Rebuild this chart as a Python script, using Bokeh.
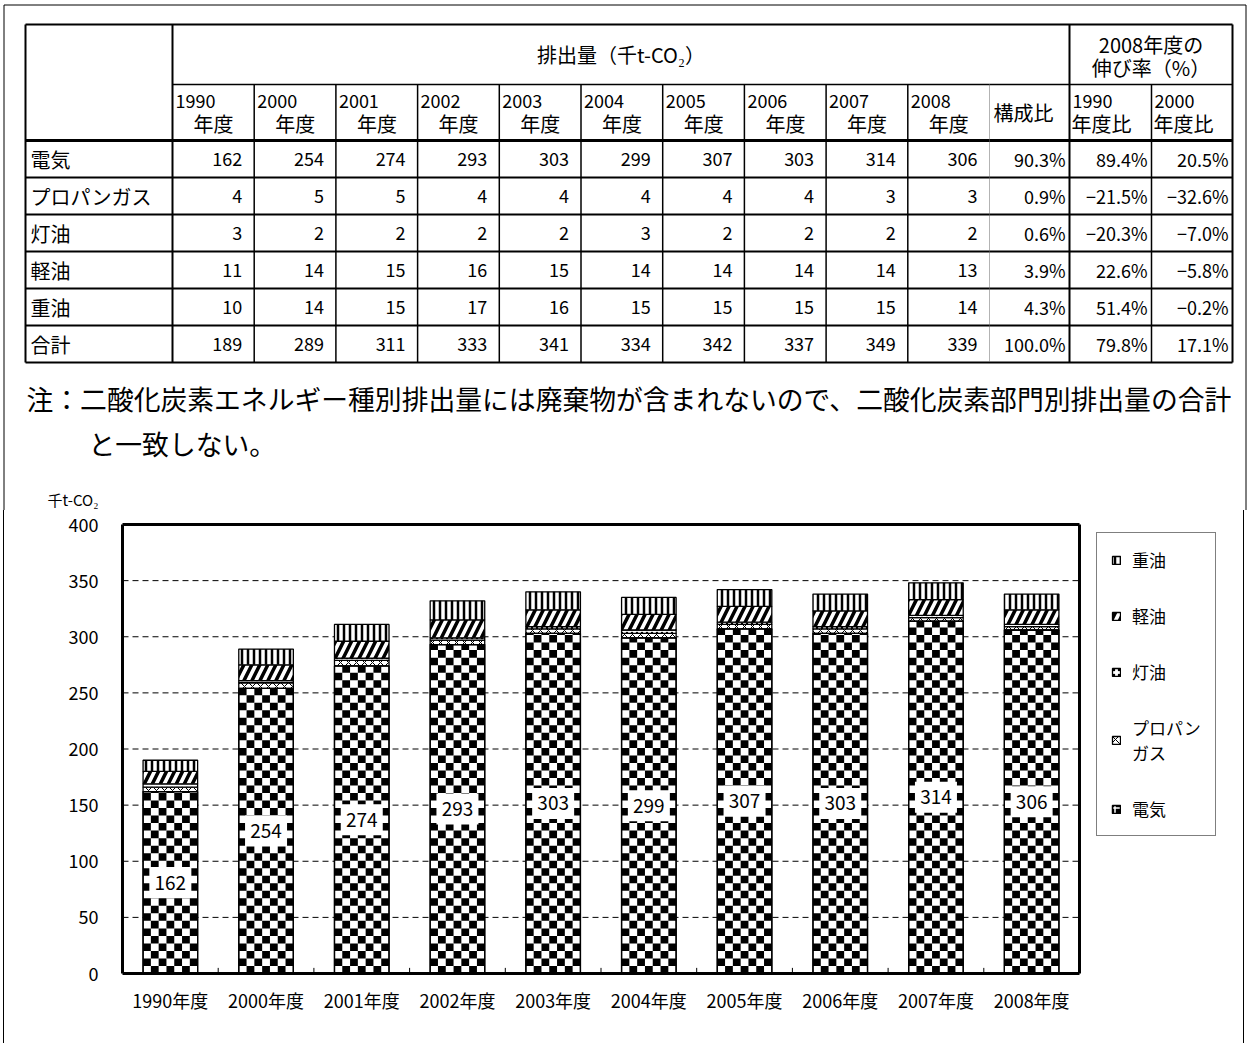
from bokeh.plotting import figure
from bokeh.models import Range1d, ColumnDataSource, Legend, LegendItem, FixedTicker
from bokeh.core.properties import value
from bokeh.embed import file_html
from bokeh.resources import INLINE

# ---------------- data ----------------
years = ["1990", "2000", "2001", "2002", "2003", "2004", "2005", "2006", "2007", "2008"]
year_labels = [y + "年度" for y in years]
row_labels = ["電気", "プロパンガス", "灯油", "軽油", "重油", "合計"]
denki = [162, 254, 274, 293, 303, 299, 307, 303, 314, 306]
propane = [4, 5, 5, 4, 4, 4, 4, 4, 3, 3]
touyu = [3, 2, 2, 2, 2, 3, 2, 2, 2, 2]
keiyu = [11, 14, 15, 16, 15, 14, 14, 14, 14, 13]
juyu = [10, 14, 15, 17, 16, 15, 15, 15, 15, 14]
total = [189, 289, 311, 333, 341, 334, 342, 337, 349, 339]
share = ["90.3%", "0.9%", "0.6%", "3.9%", "4.3%", "100.0%"]
vs1990 = ["89.4%", "−21.5%", "−20.3%", "22.6%", "51.4%", "79.8%"]
vs2000 = ["20.5%", "−32.6%", "−7.0%", "−5.8%", "−0.2%", "17.1%"]
legend_labels = ["電気", "プロパン\nガス", "灯油", "軽油", "重油"]
note_line1 = "注：二酸化炭素エネルギー種別排出量には廃棄物が含まれないので、二酸化炭素部門別排出量の合計"
note_line2 = "と一致しない。"
unit_label = "千t-CO₂"
y_ticks = [0, 50, 100, 150, 200, 250, 300, 350, 400]
y_max = 400

FONT = "Noto Sans CJK JP"

# ---------------- top figure: table + note (pixel coordinates) ----------------
WA, HA = 1247, 510

pA = figure(width=WA, height=HA, x_range=Range1d(0, WA), y_range=Range1d(HA, 0),
            output_backend="svg", toolbar_location=None, min_border=0,
            x_axis_location=None, y_axis_location=None)
pA.grid.visible = False
pA.outline_line_color = None

TL, TR = 25, 1232
c_label = 172
yc = [c_label + 81.7 * k for k in range(11)]
c_share_r = 1069
c_v1990_r = 1151
T_top, H1, H2 = 24, 84, 140
RH = 37
row_edges = [H2 + RH * k for k in range(7)]
T_bot = row_edges[-1]

seg = dict(x0=[], y0=[], x1=[], y1=[], w=[])


def line(x0, y0, x1, y1, w):
    seg["x0"].append(x0); seg["y0"].append(y0)
    seg["x1"].append(x1); seg["y1"].append(y1); seg["w"].append(w)


# page frame (left, top, right)
line(3.5, 4.5, 1245.5, 4.5, 1)
line(3.5, 4.5, 3.5, HA, 1)
line(1245.5, 4.5, 1245.5, HA, 1)
# table grid
line(TL, T_top, TR, T_top, 2)
line(TL, T_bot, TR, T_bot, 2)
line(TL, T_top, TL, T_bot, 2)
line(TR, T_top, TR, T_bot, 2)
line(c_label, T_top, c_label, T_bot, 2)
line(c_share_r, T_top, c_share_r, T_bot, 2)
for k in range(1, 10):
    line(yc[k], H1, yc[k], T_bot, 1.5)
line(c_v1990_r, H1, c_v1990_r, T_bot, 1.5)
line(c_label, H1, TR, H1, 1.5)
line(TL, H2, TR, H2, 3)
for k in range(1, 6):
    line(TL, row_edges[k], TR, row_edges[k], 2)

pA.segment(x0="x0", y0="y0", x1="x1", y1="y1", line_width="w", line_color="black",
           source=ColumnDataSource(seg))
pA.segment(x0=[yc[10]], y0=[H1], x1=[yc[10]], y1=[T_bot],
           line_color="#666666", line_width=1, line_dash="1 1")

cj = dict(x=[], y=[], t=[], a=[])      # CJK texts, 20px
dg = dict(x=[], y=[], t=[], a=[])      # numeric texts, 18px


def put(d, x, y, t, a):
    d["x"].append(x); d["y"].append(y); d["t"].append(t); d["a"].append(a)


put(cj, (c_label + c_share_r) / 2, (T_top + H1) / 2, "排出量（千t-CO₂）", "center")
put(cj, (c_share_r + TR) / 2, 44, "2008年度の", "center")
put(cj, (c_share_r + TR) / 2, 67, "伸び率（%）", "center")
for k, yr in enumerate(years):
    put(dg, yc[k] + 3, 100, yr, "left")
    put(cj, yc[k] + 41, 123, "年度", "center")
put(cj, yc[10] + 4, (H1 + H2) / 2, "構成比", "left")
put(dg, c_share_r + 3, 100, "1990", "left")
put(cj, c_share_r + 2, 123, "年度比", "left")
put(dg, c_v1990_r + 3, 100, "2000", "left")
put(cj, c_v1990_r + 2, 123, "年度比", "left")

table_rows = [denki, propane, touyu, keiyu, juyu, total]
for r, lab in enumerate(row_labels):
    cy = (row_edges[r] + row_edges[r + 1]) / 2
    put(cj, TL + 5, cy, lab, "left")
    for k, v in enumerate(table_rows[r]):
        put(dg, yc[k + 1] - 12, cy, str(v), "right")
    put(dg, c_share_r - 4, cy, share[r], "right")
    put(dg, c_v1990_r - 4, cy, vs1990[r], "right")
    put(dg, TR - 4, cy, vs2000[r], "right")

pA.text(x="x", y="y", text="t", text_align="a", source=ColumnDataSource(cj),
        text_font=value(FONT), text_font_size="20px", text_color="black", text_baseline="middle")
pA.text(x="x", y="y", text="t", text_align="a", source=ColumnDataSource(dg),
        text_font=value(FONT), text_font_size="18px", text_color="black", text_baseline="middle")

pA.text(x=[26, 88], y=[398, 443], text=[note_line1, note_line2],
        text_align="left", text_baseline="middle", text_font=value(FONT),
        text_font_size="26.8px", text_color="black")
pA.text(x=[47], y=[499], text=[unit_label], text_align="left", text_baseline="middle",
        text_font=value(FONT), text_font_size="15px", text_color="black")

# ---------------- bottom figure: stacked bar chart ----------------
WB, HB = 1241, 1043 - HA
B_left, B_top = 4, HA
chart_l, chart_r, chart_t, chart_b = 122, 1079, 524, 973      # plot-area box in page px
FL, FR, FT, FB = 118, 1236, 520, 977                            # bokeh frame in page px
n = len(years)
xpx = (chart_r - chart_l) / n
ypx = (chart_b - chart_t) / y_max

pB = figure(width=WB, height=HB,
            x_range=Range1d((FL - chart_l) / xpx, (FR - chart_l) / xpx),
            y_range=Range1d(-(FB - chart_b) / ypx, y_max + (chart_t - FT) / ypx),
            output_backend="svg", toolbar_location=None,
            min_border_left=FL - B_left, min_border_right=B_left + WB - FR,
            min_border_top=FT - B_top, min_border_bottom=B_top + HB - FB,
            styles={"margin-left": "3px", "border-left": "1px solid black",
                    "border-right": "1px solid black"})
pB.outline_line_color = None
pB.grid.visible = False
pB.yaxis.ticker = FixedTicker(ticks=y_ticks)
pB.xaxis.ticker = FixedTicker(ticks=[i + 0.5 for i in range(n)])
pB.xaxis.major_label_overrides = {i + 0.5: lab for i, lab in enumerate(year_labels)}
for ax in (pB.xaxis[0], pB.yaxis[0]):
    ax.axis_line_color = None
    ax.major_tick_line_color = None
    ax.minor_tick_line_color = None
    ax.major_label_text_font = FONT
    ax.major_label_text_color = "black"
pB.yaxis.major_label_text_font_size = "18px"
pB.yaxis.major_label_standoff = 14
pB.xaxis.major_label_text_font_size = "18px"
pB.xaxis.major_label_standoff = 3

# dashed value gridlines inside the plot area
grid_y = [t for t in y_ticks if 0 < t < y_max]
pB.segment(x0=[0] * len(grid_y), y0=grid_y, x1=[n] * len(grid_y), y1=grid_y,
           line_color="black", line_width=1, line_dash="6 4")

xs = [i + 0.5 for i in range(n)]
src = ColumnDataSource(dict(x=xs, denki=denki, propane=propane, touyu=touyu,
                            keiyu=keiyu, juyu=juyu))
stackers = ["denki", "propane", "touyu", "keiyu", "juyu"]
BAR_W = 0.57
rs = pB.vbar_stack(stackers, x="x", width=BAR_W, source=src,
                   fill_color="white", line_color="black", line_width=1.3,
                   hatch_color="black",
                   hatch_pattern=[" ", "x", ".", "/", "|"],
                   hatch_scale=[8, 8, 5, 16, 6],
                   hatch_weight=[1, 1, 1, 3.5, 2.5])

# checkerboard texture of the 電気 segment, built from the data
NCOL, CELL_Y = 7, 6.7
cw = BAR_W / NCOL
ck = dict(left=[], right=[], bottom=[], top=[])
for i, v in enumerate(denki):
    x0 = i + 0.5 - BAR_W / 2
    r = 0
    while r * CELL_Y < v:
        y0 = r * CELL_Y
        y1 = min((r + 1) * CELL_Y, v)
        for c in range(NCOL):
            if (r + c) % 2 == 1:
                ck["left"].append(x0 + c * cw); ck["right"].append(x0 + (c + 1) * cw)
                ck["bottom"].append(y0); ck["top"].append(y1)
        r += 1
pB.quad(left="left", right="right", bottom="bottom", top="top", source=ColumnDataSource(ck),
        fill_color="black", line_color=None)
pB.vbar(x=xs, width=BAR_W, bottom=0, top=denki, fill_color=None, line_color="black",
        line_width=1.3)

# plot-area box and category separator ticks
pB.segment(x0=[0, n, 0, 0], y0=[0, 0, y_max, 0], x1=[0, n, n, n], y1=[y_max, y_max, y_max, 0],
           line_color="black", line_width=3)
pB.segment(x0=list(range(1, n)), y0=[0] * (n - 1), x1=list(range(1, n)), y1=[5] * (n - 1),
           line_color="black", line_width=1)

# legend-only renderer for 電気 (outside the visible range)
r_leg = pB.quad(left=[0.2], right=[0.3], bottom=[-200], top=[-190], fill_color="black",
                line_color="black", line_width=1.5, hatch_pattern="+", hatch_color="white",
                hatch_scale=6, hatch_weight=1.5)

# data labels for 電気
half = [v / 2 for v in denki]
pB.rect(x=xs, y=half, width=42, height=31, width_units="screen", height_units="screen",
        fill_color="white", line_color=None)
pB.text(x=xs, y=half, text=[str(v) for v in denki], text_align="center",
        text_baseline="middle", text_font=value(FONT), text_font_size="19px", text_color="black")

leg_r = [r_leg] + rs[1:]
items = [LegendItem(label=legend_labels[i], renderers=[leg_r[i]]) for i in range(4, -1, -1)]
legend = Legend(items=items, location=(1096 - FL, FB - 836),
                border_line_color="black", border_line_width=1, background_fill_color="white",
                label_text_font=FONT, label_text_font_size="17px", label_text_color="black",
                glyph_width=10, glyph_height=10, spacing=31, padding=14, label_standoff=11,
                label_height=20, margin=0)
pB.add_layout(legend)

open("out.html", "w").write(file_html([pA, pB], INLINE))
